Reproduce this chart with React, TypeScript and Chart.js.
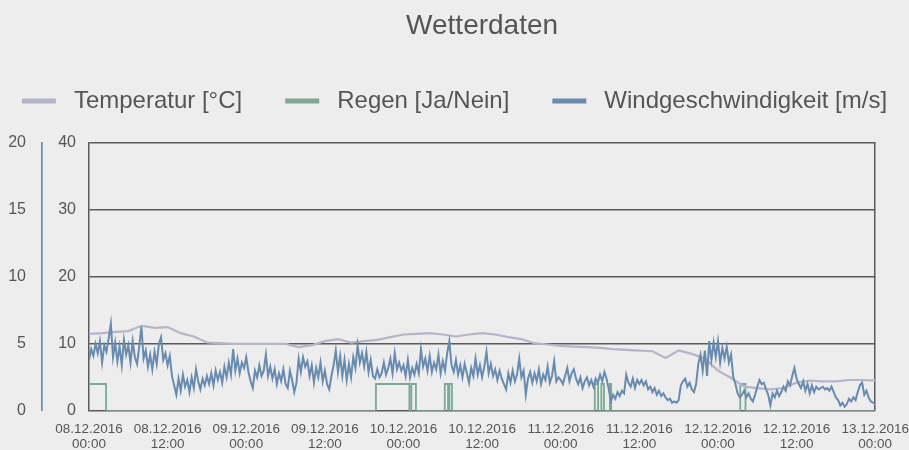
import React, { useEffect, useRef } from 'react';
import { Chart, registerables } from 'chart.js';

Chart.register(...registerables);

const FONT = "'Liberation Sans', Arial, Helvetica, sans-serif";
const TEXT = '#555555';
const GRID = '#5a5a5a';
const BG = '#ededed';
const C_TEMP = '#b4b6c8';
const C_RAIN = '#7aaa96';
const C_WIND = '#688baf';

const TITLE = 'Wetterdaten';
const LABEL_TEMP = 'Temperatur [°C]';
const LABEL_RAIN = 'Regen [Ja/Nein]';
const LABEL_WIND = 'Windgeschwindigkeit [m/s]';

// x axis: hours since 08.12.2016 00:00, one tick every 12 h
const tickDates = ['08.12.2016', '08.12.2016', '09.12.2016', '09.12.2016', '10.12.2016', '10.12.2016', '11.12.2016', '11.12.2016', '12.12.2016', '12.12.2016', '13.12.2016'];
const tickTimes = ['00:00', '12:00', '00:00', '12:00', '00:00', '12:00', '00:00', '12:00', '00:00', '12:00', '00:00'];

// wind speed [m/s], one value every 20 minutes (one row = 2 hours)
const WIND_STEP_H = 1 / 3;
const windSpeed = [
  3.8, 4.6, 4.1, 5.0, 4.3, 5.2,
  3.6, 4.9, 4.4, 5.4, 6.5, 4.0,
  5.1, 3.7, 4.8, 3.4, 5.3, 4.2,
  4.9, 3.6, 5.2, 4.0, 3.5, 4.8,
  6.3, 3.9, 4.5, 3.3, 4.2, 3.1,
  4.4, 3.5, 5.0, 5.5, 3.8, 4.3,
  3.4, 4.1, 2.6, 1.9, 1.2, 2.4,
  1.5, 2.7, 1.8, 2.3, 1.4, 2.5,
  1.7, 3.1, 2.2, 1.6, 2.4, 1.9,
  2.6, 2.0, 2.8, 1.9, 3.0, 2.3,
  2.9, 2.1, 3.3, 2.5, 3.6, 2.7,
  4.6, 3.0, 3.9, 2.8, 3.6, 3.2,
  4.0, 2.9, 2.2, 1.7, 3.0, 2.5,
  3.4, 2.6, 3.0, 4.2, 2.6, 3.3,
  2.4, 3.1, 2.0, 2.8, 2.2, 3.1,
  2.0, 1.7, 3.0, 2.3, 1.4, 2.1,
  3.9, 2.9, 4.0, 3.3, 3.7, 2.6,
  3.4, 2.1, 3.2, 2.5, 3.6, 2.2,
  3.0, 2.0, 1.6, 2.6, 3.4, 4.5,
  2.9, 4.1, 2.6, 3.8, 2.3, 3.5,
  2.5, 4.0, 3.2, 4.9, 3.6, 4.3,
  3.3, 4.4, 2.9, 3.8, 2.6, 2.4,
  3.1, 2.5, 2.8, 3.6, 2.7, 3.2,
  3.9, 2.8, 4.3, 3.1, 3.6, 3.0,
  3.4, 2.6, 3.8, 2.5, 3.2, 2.7,
  3.5, 2.8, 4.6, 3.3, 3.9, 3.0,
  4.1, 2.9, 3.6, 3.1, 4.2, 2.8,
  3.7, 3.0, 4.3, 5.2, 3.4, 2.9,
  3.8, 2.7, 3.4, 2.5, 3.5, 2.8,
  2.1, 3.2, 2.6, 3.9, 2.7, 3.4,
  2.5, 3.3, 4.4, 2.8, 3.5, 2.6,
  3.1, 2.3, 3.0, 2.4, 2.0, 1.6,
  2.8, 2.1, 3.0, 2.2, 2.7, 3.9,
  2.5, 3.0, 1.2, 2.4, 2.9, 2.1,
  2.8, 2.2, 3.1, 2.0, 2.7, 2.3,
  3.3, 2.1, 2.6, 3.7, 2.2, 2.5,
  2.3, 2.0, 2.6, 3.2, 2.2, 2.8,
  3.1, 2.4, 2.0, 2.5, 1.7, 2.2,
  2.5, 1.9, 2.3, 1.8, 2.4, 2.1,
  2.7, 2.2, 2.9, 2.4, 1.6, 0.7,
  1.2, 0.9, 1.4, 1.1, 1.5, 1.3,
  2.7, 2.1, 1.8, 2.4, 1.7, 2.3,
  2.0, 2.3, 1.9, 2.2, 1.6, 1.8,
  1.4, 1.7, 1.2, 1.5, 1.1, 1.3,
  1.0, 0.8, 0.9, 0.6, 0.7, 0.6,
  0.8, 1.9, 2.2, 2.4, 1.8, 2.1,
  1.6, 1.4, 2.0, 3.5, 4.2, 3.0,
  4.5, 2.6, 5.2, 3.8, 5.1, 4.0,
  5.2, 3.6, 4.7, 3.9, 4.8, 3.6,
  4.2, 2.5, 2.0, 1.3, 1.0, 1.2,
  1.5, 1.0, 1.3, 0.9, 0.7, 1.2,
  1.8, 2.3, 2.0, 2.1, 1.6, 1.2,
  0.4, 1.3, 1.0, 1.5, 1.1, 1.4,
  1.8, 1.5, 2.2, 1.9, 2.6, 3.2,
  2.4, 2.0, 1.7, 2.2, 1.5, 2.0,
  1.3, 1.9, 1.4, 1.8, 1.6, 1.7,
  1.8, 1.6, 1.7, 1.5, 1.8, 1.4,
  1.0, 0.8, 0.4, 0.6, 0.3, 0.5,
  0.9, 0.7, 1.0, 0.8, 1.4, 1.9,
  2.1, 1.2, 1.5, 1.0, 0.7, 0.6,
  0.5,
];

// temperature [°C], one value every 2 hours
const TEMP_STEP_H = 2;
const temperature = [
  11.5, 11.6, 11.8, 11.9, 12.7, 12.4, 12.5, 11.6, 11.1, 10.2,
  10.1, 10.0, 10.0, 10.0, 10.0, 10.0, 9.5, 9.8, 10.4, 10.7,
  10.2, 10.4, 10.6, 11.0, 11.4, 11.5, 11.6, 11.4, 11.1, 11.4,
  11.6, 11.4, 11.0, 10.7, 10.1, 9.9, 9.7, 9.6, 9.5, 9.4,
  9.2, 9.1, 9.0, 8.9, 7.9, 9.0, 8.5, 7.8, 6.0, 4.9,
  3.6, 3.4, 3.2, 3.4, 4.2, 4.5, 4.4, 4.4, 4.6, 4.6,
  4.5,
];

// rain yes/no: each value holds from its hour until the next change
const rainHours = [0, 2.6, 43.8, 48.9, 49.2, 49.9, 54.3, 54.8, 55.0, 55.4, 77.2, 77.7, 78.2, 78.6, 79.5, 79.7, 99.4, 100.2, 120];
const rainValues = [1, 0, 1, 0, 1, 0, 1, 0, 1, 0, 1, 0, 1, 0, 1, 0, 1, 0, 0];

const LEGEND_FONT_SIZE = 24;
const LEGEND_BOX_W = 34;
const LEGEND_BOX_H = 5;
const LEGEND_TEXT_GAP = 18;
const LEGEND_ITEM_GAP = 43;
const LEGEND_OFFSET = 42;

const lineLegend = {
  id: 'lineLegend',
  afterDraw(chart: any) {
    const { ctx, chartArea } = chart;
    const datasets = chart.data.datasets;
    ctx.save();
    ctx.font = `${LEGEND_FONT_SIZE}px ${FONT}`;
    const widths = datasets.map((d: any) => ctx.measureText(d.label).width);
    const total =
      widths.reduce((s: number, w: number) => s + LEGEND_BOX_W + LEGEND_TEXT_GAP + w, 0) +
      LEGEND_ITEM_GAP * (datasets.length - 1);
    let x = (chart.width - total) / 2;
    const y = chartArea.top - LEGEND_OFFSET;
    ctx.textBaseline = 'middle';
    ctx.textAlign = 'left';
    datasets.forEach((d: any, i: number) => {
      ctx.fillStyle = d.borderColor;
      ctx.fillRect(x, y - LEGEND_BOX_H / 2, LEGEND_BOX_W, LEGEND_BOX_H);
      ctx.fillStyle = TEXT;
      ctx.fillText(d.label, x + LEGEND_BOX_W + LEGEND_TEXT_GAP, y);
      x += LEGEND_BOX_W + LEGEND_TEXT_GAP + widths[i] + LEGEND_ITEM_GAP;
    });
    ctx.restore();
  },
};

export default function App() {
  const ref = useRef<HTMLCanvasElement | null>(null);

  useEffect(() => {
    if (!ref.current) return;
    const chart = new Chart(ref.current, {
      type: 'line',
      data: {
        datasets: [
          {
            label: LABEL_TEMP,
            data: temperature.map((v, i) => ({ x: i * TEMP_STEP_H, y: v })),
            yAxisID: 'yTemp',
            borderColor: C_TEMP,
            backgroundColor: C_TEMP,
            borderWidth: 2.2,
            pointRadius: 0,
            tension: 0,
            order: 1,
          },
          {
            label: LABEL_RAIN,
            data: rainHours.map((h, i) => ({ x: h, y: rainValues[i] })),
            yAxisID: 'yRain',
            borderColor: C_RAIN,
            backgroundColor: C_RAIN,
            borderWidth: 1.8,
            pointRadius: 0,
            stepped: true,
            order: 2,
          },
          {
            label: LABEL_WIND,
            data: windSpeed.map((v, i) => ({ x: i * WIND_STEP_H, y: v })),
            yAxisID: 'yWind',
            borderColor: C_WIND,
            backgroundColor: C_WIND,
            borderWidth: 2,
            pointRadius: 0,
            tension: 0,
            order: 0,
          },
        ],
      },
      options: {
        responsive: false,
        animation: false,
        events: [],
        layout: { padding: { left: 8, right: 0, top: 0, bottom: 0 } },
        plugins: {
          legend: { display: false },
          tooltip: { enabled: false },
          title: {
            display: true,
            text: TITLE,
            color: TEXT,
            fullSize: false,
            font: { family: FONT, size: 28, weight: 'normal', lineHeight: 1.2 },
            padding: { top: 9.2, bottom: 100.2 },
          },
        },
        scales: {
          x: {
            type: 'linear',
            min: 0,
            max: 120,
            grid: { display: false, drawTicks: false },
            border: { display: false },
            ticks: {
              stepSize: 12,
              autoSkip: false,
              maxRotation: 0,
              padding: 11.5,
              color: TEXT,
              font: { family: FONT, size: 13.5, lineHeight: 1.1 },
              callback: (v: any) => {
                const i = Math.round(Number(v) / 12);
                return [tickDates[i], tickTimes[i]];
              },
            },
            afterFit: (s: any) => {
              const p = s.options.ticks.padding;
              s.height -= p;
              s.paddingLeft = Math.max(0, s.paddingLeft - p);
              s.paddingRight = Math.max(0, s.paddingRight - p);
            },
          },
          yWind: {
            position: 'left',
            weight: 1,
            min: 0,
            max: 20,
            grid: { display: false, drawTicks: false },
            border: { display: true, color: C_WIND, width: 1.7 },
            ticks: { stepSize: 5, padding: 16, color: TEXT, font: { family: FONT, size: 16 } },
            afterFit: (s: any) => {
              s.width = 34;
            },
          },
          yTemp: {
            position: 'left',
            weight: 0,
            min: 0,
            max: 40,
            grid: { color: GRID, lineWidth: 1.5, drawTicks: false },
            border: { display: true, color: GRID, width: 1.5 },
            ticks: { stepSize: 10, padding: 13, color: TEXT, font: { family: FONT, size: 16 } },
            afterFit: (s: any) => {
              s.width = 47;
            },
          },
          yRain: {
            position: 'right',
            min: 0,
            max: 10,
            grid: { display: false, drawTicks: false },
            border: { display: true, color: GRID, width: 1.5 },
            ticks: { display: false },
          },
        },
      } as any,
      plugins: [lineLegend],
    });
    return () => chart.destroy();
  }, []);

  return (
    <div
      style={{
        position: 'absolute',
        left: 0,
        top: 0,
        width: 909,
        height: 450,
        overflow: 'hidden',
        background: BG,
      }}
    >
      <canvas ref={ref} width={909} height={452} style={{ display: 'block' }} />
    </div>
  );
}
